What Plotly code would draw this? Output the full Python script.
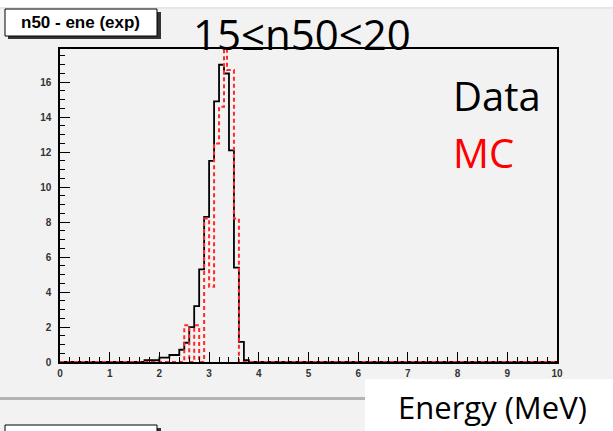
import plotly.graph_objects as go

# ---------------- data ----------------
# Data histogram (black): left edges of 0.1 MeV bins and counts
data_lo = [1.7, 1.8, 1.9, 2.0, 2.1, 2.2, 2.3, 2.4, 2.5, 2.6, 2.7, 2.8, 2.9,
           3.0, 3.1, 3.2, 3.3, 3.4, 3.5, 3.6, 3.7]
data_counts = [0.1, 0.1, 0.1, 0.25, 0.25, 0.4, 0.4, 0.7, 1.1, 2.0, 3.2, 5.3, 8.3,
               11.5, 14.9, 17.0, 16.5, 12.1, 5.4, 1.15, 0.1]
data_hi = 3.8

# MC histogram (red dashed): bin edges and contents
mc_edges = [2.5, 2.6, 2.7, 2.8, 2.9, 3.0, 3.1, 3.2, 3.3, 3.36, 3.5, 3.6]
mc_counts = [2.1, 0.0, 2.1, 0.0, 8.2, 4.3, 12.5, 14.6, 19.5, 16.7, 8.2]

x_range = [0, 10]
y_range = [0, 17.9]
x_ticks = list(range(0, 11))
y_ticks = list(range(0, 17, 2))

title_txt = "15≤n50<20"
box_txt = "n50 - ene (exp)"
xlab_txt = "Energy (MeV)"

# ---------------- geometry helpers ----------------
W, H = 613, 431
L, R, T, B = 60, 56, 49, 69
PW, PH = W - L - R, H - T - B


def fx(px):
    return (px - L) / PW


def fy(py):
    return (H - B - py) / PH


def step_xy(lo_edges, vals, hi_edge):
    xs = [x_range[0]] + list(lo_edges) + [hi_edge, x_range[1]]
    ys = [0] + list(vals) + [0, 0]
    return xs, ys


fig = go.Figure()

dx, dy = step_xy(data_lo, data_counts, data_hi)
fig.add_trace(go.Scatter(x=dx, y=dy, mode="lines", line_shape="hv",
                         line=dict(color="black", width=1.8),
                         name="Data", showlegend=False, hoverinfo="skip"))

mx, my = step_xy(mc_edges[:-1], mc_counts, mc_edges[-1])
fig.add_trace(go.Scatter(x=mx, y=my, mode="lines", line_shape="hv",
                         line=dict(color="#ff2a2a", width=2, dash="4px,3px"),
                         name="MC", showlegend=False, hoverinfo="skip"))

grey = "#f2f2f2"
shapes = []
# white strip at top
shapes.append(dict(type="rect", xref="paper", yref="paper",
                   x0=fx(-5), x1=fx(W + 5), y0=fy(0 - 5), y1=fy(7),
                   fillcolor="white", line_width=0, layer="below"))
shapes.append(dict(type="line", xref="paper", yref="paper",
                   x0=fx(0), x1=fx(W), y0=fy(8), y1=fy(8),
                   line=dict(color="#d9d9d9", width=1), layer="below"))
# separator line between pads
shapes.append(dict(type="rect", xref="paper", yref="paper",
                   x0=fx(0), x1=fx(W), y0=fy(397), y1=fy(400),
                   fillcolor="#b4b4b4", line_width=0, layer="below"))
# lower pad title box (only its top edge is visible)
shapes.append(dict(type="rect", xref="paper", yref="paper",
                   x0=fx(8), x1=fx(161), y0=fy(428), y1=fy(455),
                   fillcolor="#333", line_width=0))
shapes.append(dict(type="rect", xref="paper", yref="paper",
                   x0=fx(5), x1=fx(157), y0=fy(425), y1=fy(452),
                   fillcolor="white", line=dict(color="black", width=1)))
# upper title box with shadow
shapes.append(dict(type="rect", xref="paper", yref="paper",
                   x0=fx(8), x1=fx(161), y0=fy(12), y1=fy(39),
                   fillcolor="#333", line_width=0))
shapes.append(dict(type="rect", xref="paper", yref="paper",
                   x0=fx(5), x1=fx(157), y0=fy(9), y1=fy(36),
                   fillcolor="white", line=dict(color="black", width=1)))
# white text box lower right
shapes.append(dict(type="rect", xref="paper", yref="paper",
                   x0=fx(365), x1=fx(W + 5), y0=fy(379), y1=fy(H + 5),
                   fillcolor="white", line_width=0))

annotations = [
    dict(text=title_txt, xref="paper", yref="paper", x=fx(302), y=fy(33),
         xanchor="center", yanchor="middle", showarrow=False,
         font=dict(family="Open Sans", size=42, color="black")),
    dict(text="Data", xref="paper", yref="paper", x=fx(451), y=fy(95),
         xanchor="left", yanchor="middle", showarrow=False,
         font=dict(family="Open Sans", size=40, color="black")),
    dict(text="MC", xref="paper", yref="paper", x=fx(451), y=fy(152),
         xanchor="left", yanchor="middle", showarrow=False,
         font=dict(family="Open Sans", size=40, color="red")),
    dict(text=box_txt, xref="paper", yref="paper", x=fx(80), y=fy(22),
         xanchor="center", yanchor="middle", showarrow=False,
         font=dict(family="Liberation Sans", size=17, color="black", weight="bold")),
    dict(text=xlab_txt, xref="paper", yref="paper", x=fx(492), y=fy(407),
         xanchor="center", yanchor="middle", showarrow=False,
         font=dict(family="Open Sans", size=31, color="black")),
]

tickfont = dict(family="Liberation Sans", size=10, color="#333", weight="bold")
fig.update_layout(
    width=W, height=H,
    margin=dict(l=L, r=R, t=T, b=B, pad=0),
    paper_bgcolor=grey, plot_bgcolor=grey,
    shapes=shapes, annotations=annotations,
    showlegend=False,
    xaxis=dict(range=x_range, tickvals=x_ticks, ticks="inside", ticklen=10,
               tickwidth=1, tickcolor="black", showline=True, linecolor="black",
               linewidth=1.5, mirror=True, showgrid=False, zeroline=False,
               tickfont=tickfont, ticklabelstandoff=1,
               minor=dict(dtick=0.2, ticks="inside", ticklen=5, tickcolor="black",
                          tickwidth=1, showgrid=False)),
    yaxis=dict(range=y_range, tickvals=y_ticks, ticks="inside", ticklen=10,
               tickwidth=1, tickcolor="black", showline=True, linecolor="black",
               linewidth=1.5, mirror=True, showgrid=False, zeroline=False,
               tickfont=tickfont, ticklabelstandoff=5,
               minor=dict(dtick=0.5, ticks="inside", ticklen=5, tickcolor="black",
                          tickwidth=1, showgrid=False)),
)

fig.write_html("out.html")
